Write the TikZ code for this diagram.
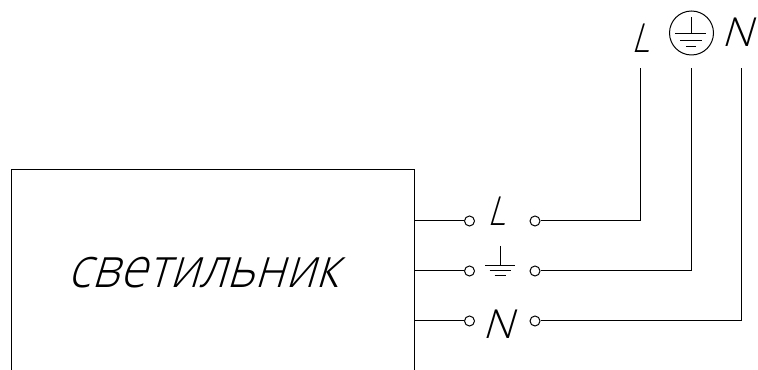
\documentclass[tikz,border=0pt]{standalone}
\usepackage{fontspec}
\newfontfamily\cad[FakeSlant=0.3,FakeStretch=0.88]{Open Sans Light}
\newfontfamily\cadn[FakeSlant=0.3,FakeStretch=1.08]{Open Sans Light}
\newfontfamily\cadwide[FakeSlant=0.3,FakeStretch=0.89]{Open Sans Light}
\tikzset{
 x=0.75pt,y=-0.75pt,
 wire/.style={draw=black,line width=0.75pt},
 term/.style={circle,draw=black,line width=0.75pt,fill=white,minimum size=7.5pt,inner sep=0pt},
 cadtext/.style={inner sep=0pt,font=\cad\fontsize{30}{30}\selectfont},
 cadntext/.style={inner sep=0pt,font=\cadn\fontsize{30}{30}\selectfont},
 titletext/.style={inner sep=0pt,font=\cadwide\fontsize{42}{42}\selectfont},
 earth/.style={draw=black,line width=0.75pt},
}
\begin{document}
\begin{tikzpicture}
\useasboundingbox (0,0) rectangle (758,370);
\fill[white] (0,0) rectangle (758,370);
\coordinate (boxBL) at (11,370);
\coordinate (boxTL) at (11,170);
\coordinate (boxTR) at (414,170);
\coordinate (boxBR) at (414,370);
\draw[wire] (boxBL) -- (boxTL) -- (boxTR) -- (boxBR);
\node[titletext] (title) at (203,273) {светильник};
\coordinate (bL) at (414,221);
\coordinate (bE) at (414,271);
\coordinate (bN) at (414,321);
\node[term] (lL) at (469.5,221) {};
\node[term] (lE) at (469.5,271) {};
\node[term] (lN) at (469.5,321) {};
\node[term] (rL) at (535,221) {};
\node[term] (rE) at (535,271) {};
\node[term] (rN) at (535,321) {};
\draw[wire] (bL) -- (lL);
\draw[wire] (bE) -- (lE);
\draw[wire] (bN) -- (lN);
\coordinate (tL) at (640,68);
\coordinate (tE) at (691,68);
\coordinate (tN) at (741,68);
\draw[wire] (rL) -| (tL);
\draw[wire] (rE) -| (tE);
\draw[wire] (rN) -| (tN);
\node[cadtext] (mL) at (497,211) {L};
\node[cadntext] (mN) at (498,324.5) {N};
\node[cadtext] (uL) at (640.5,38.5) {L};
\node[cadntext] (uN) at (737.5,32.5) {N};
% earth symbol, terminals
\draw[earth] (500,246) -- (500,266) (485,266) -- (515,266) (489.5,271) -- (510.5,271) (494.5,276) -- (505.5,276);
% earth symbol, supply
\node[circle,draw=black,line width=0.75pt,minimum size=33pt,inner sep=0pt] (pe) at (691.5,33) {};
\draw[earth] (691,17) -- (691,34) (675,34) -- (706,34) (680,41) -- (702,41) (686,47) -- (696,47);
\end{tikzpicture}
\end{document}
